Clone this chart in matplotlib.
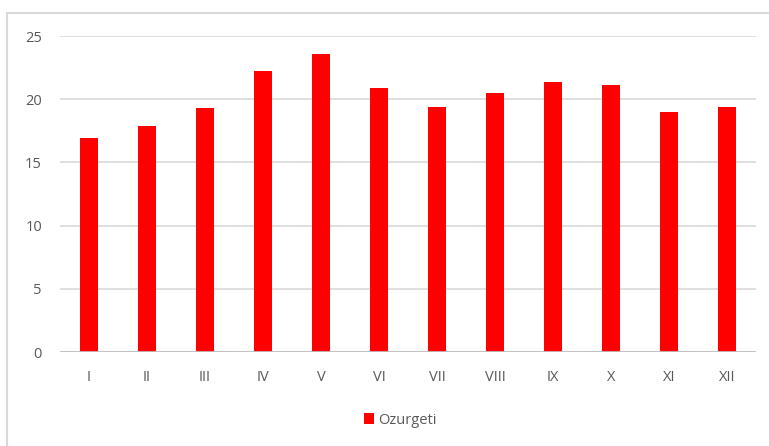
import matplotlib.pyplot as plt
from matplotlib.patches import Rectangle

# monthly values, Ozurgeti
months = ["I", "II", "III", "IV", "V", "VI", "VII", "VIII", "IX", "X", "XI", "XII"]
ozurgeti = [16.9, 17.9, 19.3, 22.2, 23.6, 20.9, 19.4, 20.5, 21.4, 21.1, 19.0, 19.4]
yticks = [0, 5, 10, 15, 20, 25]

plt.rcParams['font.family'] = ['Open Sans', 'DejaVu Sans']
txt = '#595959'

fig = plt.figure(figsize=(7.69, 4.46), dpi=100)
ax = fig.add_axes([60/769, 1-352/446, 696/769, 316/446])

# chart frame (light gray border)
fig.patches.append(Rectangle((7/769, -0.1), 1.2, 1-13/446+0.1, transform=fig.transFigure,
                             fill=False, edgecolor='#d9d9d9', linewidth=1.5))

x = range(len(months))
ax.bar(x, ozurgeti, width=0.3, color='#ff0000', label='Ozurgeti', zorder=3)

ax.set_xlim(-0.5, len(months) - 0.5)
ax.set_ylim(0, 25)
ax.set_yticks(yticks)
ax.set_xticks(list(x))
ax.set_xticklabels(months)
ax.grid(axis='y', color='#d9d9d9', linewidth=1.2, zorder=0)
ax.axhline(0, color='#bfbfbf', linewidth=2, zorder=4)
for s in ax.spines.values():
    s.set_visible(False)
ax.tick_params(axis='both', length=0, labelsize=10.5, labelcolor=txt)
ax.tick_params(axis='x', pad=13)
ax.tick_params(axis='y', pad=13)

fig.legend(loc='center', bbox_to_anchor=(400/769, 1-420/446), frameon=False,
           fontsize=10.5, labelcolor=txt, handlelength=0.7, handleheight=0.7,
           handletextpad=0.3)

fig.savefig('out.png', dpi=100)
